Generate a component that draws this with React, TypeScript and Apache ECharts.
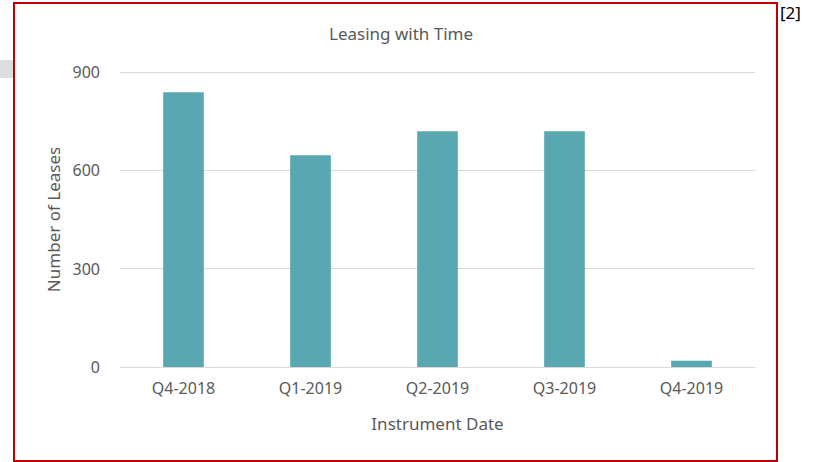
import React, { useEffect, useRef } from "react";
import * as echarts from "echarts";

const categories = ["Q4-2018", "Q1-2019", "Q2-2019", "Q3-2019", "Q4-2019"];
const leases = [838, 646, 719, 719, 19];
const yTicks = [0, 300, 600, 900];

export default function App() {
  const ref = useRef<HTMLDivElement>(null);
  useEffect(() => {
    if (!ref.current) return;
    const chart = echarts.init(ref.current, null, { renderer: "svg" });
    const font = "'Noto Sans', 'Open Sans', sans-serif";
    chart.setOption({
      animation: false,
      backgroundColor: "#ffffff",
      title: {
        text: "Leasing with Time",
        left: 396,
        top: 20,
        textAlign: "center",
        textStyle: { fontFamily: font, fontSize: 17, fontWeight: "normal", color: "#595959" },
      },
      grid: { left: 120, right: 59, top: 72, bottom: 95 },
      xAxis: {
        type: "category",
        data: categories,
        name: "Instrument Date",
        nameLocation: "middle",
        nameGap: 48,
        nameTextStyle: { fontFamily: font, fontSize: 17, color: "#595959" },
        axisLine: { show: true, lineStyle: { color: "#d9d9d9", width: 1 } },
        axisTick: { show: false },
        axisLabel: { fontFamily: font, fontSize: 16, color: "#595959", margin: 13 },
      },
      yAxis: {
        type: "value",
        min: 0,
        max: 900,
        interval: 300,
        name: "Number of Leases",
        nameLocation: "middle",
        nameGap: 55,
        nameTextStyle: { fontFamily: font, fontSize: 17, color: "#595959" },
        axisLine: { show: false },
        axisTick: { show: false },
        axisLabel: {
          fontFamily: font,
          fontSize: 16,
          color: "#595959",
          margin: 20,
          formatter: (v: number) => (yTicks.includes(v) ? String(v) : ""),
        },
        splitLine: { lineStyle: { color: "#d9d9d9", width: 1 } },
      },
      series: [
        {
          type: "bar",
          data: leases,
          barWidth: "32%",
          itemStyle: { color: "#59a7b0" },
        },
      ],
      graphic: [
        { type: "rect", shape: { x: 0, y: 60, width: 13, height: 18 }, style: { fill: "#dedede" }, z: 0 },
        {
          type: "rect",
          shape: { x: 14, y: 3, width: 763, height: 458 },
          style: { fill: "none", stroke: "#c00000", lineWidth: 2 },
          z: 10,
        },
        {
          type: "text",
          x: 780,
          y: 4,
          style: { text: "[2]", fontFamily: font, fontSize: 17, fill: "#000000" },
        },
      ],
    });
    return () => chart.dispose();
  }, []);
  return (
    <div
      ref={ref}
      style={{ position: "absolute", left: 0, top: 0, width: 814, height: 462 }}
    />
  );
}
